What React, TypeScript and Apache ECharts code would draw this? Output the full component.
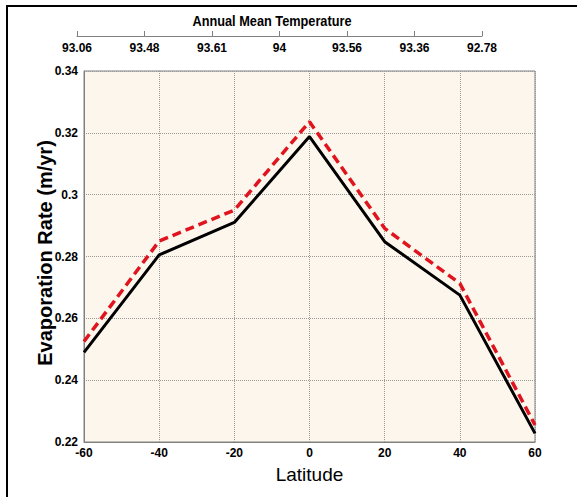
import React, { useEffect, useRef } from "react";
import * as echarts from "echarts";

const latitudes = [-60, -40, -20, 0, 20, 40, 60];
const blackSeries = [0.2490, 0.2805, 0.2910, 0.3188, 0.2848, 0.2675, 0.2228];
const redSeries = [0.2525, 0.2850, 0.2950, 0.3236, 0.2891, 0.2713, 0.2255];
const tempLabels = ["93.06", "93.48", "93.61", "94", "93.56", "93.36", "92.78"];

const NARROW = "'Liberation Sans Narrow', 'Arial Narrow', 'Liberation Sans', Arial, sans-serif";
const SANS = "'Liberation Sans', Arial, sans-serif";

export default function App() {
  const ref = useRef<HTMLDivElement>(null);
  useEffect(() => {
    document.body.style.margin = "0";
    const chart = echarts.init(ref.current!, null, { renderer: "svg" });
    const pair = (arr: number[]) => latitudes.map((x, i) => [x, arr[i]]);
    chart.setOption({
      animation: false,
      backgroundColor: "#ffffff",
      graphic: [
        {
          type: "rect",
          shape: { x: 7, y: 6, width: 700, height: 700 },
          style: { fill: "none", stroke: "#000", lineWidth: 2 },
          z: 100,
        },
        {
          type: "text",
          x: 272,
          y: 21,
          scaleX: 0.85,
          style: {
            text: "Annual Mean Temperature",
            font: `bold 15px ${NARROW}`,
            fill: "#000",
            align: "center",
            verticalAlign: "middle",
          },
        },
        {
          type: "text",
          x: 45,
          y: 253,
          rotation: Math.PI / 2,
          style: {
            text: "Evaporation Rate (m/yr)",
            font: `bold 20px ${SANS}`,
            fill: "#000",
            align: "center",
            verticalAlign: "middle",
          },
        },
      ],
      grid: [
        {
          left: 84,
          right: 42,
          top: 71,
          bottom: 55,
          show: true,
          backgroundColor: "#FDF6EC",
          borderColor: "#808080",
          borderWidth: 1,
        },
        { left: 77, width: 405, top: 36, height: 0, show: false },
      ],
      xAxis: [
        {
          type: "value",
          gridIndex: 0,
          min: -60,
          max: 60,
          interval: 20,
          name: "Latitude",
          nameLocation: "middle",
          nameGap: 23,
          nameTextStyle: { fontFamily: SANS, fontSize: 19, color: "#000" },
          axisLine: { onZero: false, lineStyle: { color: "#808080", width: 1 } },
          axisTick: { show: false },
          axisLabel: {
            color: "#000",
            fontFamily: NARROW,
            fontWeight: "bold",
            fontSize: 12,
            margin: 5,
          },
          splitLine: { show: true, lineStyle: { color: "#999", type: "dotted", width: 1 } },
        },
        {
          type: "category",
          gridIndex: 1,
          data: tempLabels,
          boundaryGap: false,
          position: "bottom",
          axisLine: { onZero: false, lineStyle: { color: "#808080", width: 1 } },
          axisTick: { show: true, inside: true, length: 5, lineStyle: { color: "#808080" } },
          axisLabel: {
            color: "#000",
            fontFamily: NARROW,
            fontWeight: "bold",
            fontSize: 12,
            margin: 6,
            interval: 0,
          },
          splitLine: { show: false },
        },
      ],
      yAxis: [
        {
          type: "value",
          gridIndex: 0,
          min: 0.22,
          max: 0.34,
          interval: 0.02,
          axisLine: { show: true, onZero: false, lineStyle: { color: "#808080", width: 1 } },
          axisTick: { show: false },
          axisLabel: {
            color: "#000",
            fontFamily: NARROW,
            fontWeight: "bold",
            fontSize: 12,
            margin: 6,
            formatter: (v: number) => String(+v.toFixed(2)),
          },
          splitLine: { show: true, lineStyle: { color: "#999", type: "dotted", width: 1 } },
        },
        {
          type: "value",
          gridIndex: 1,
          show: false,
        },
      ],
      series: [
        {
          type: "line",
          xAxisIndex: 0,
          yAxisIndex: 0,
          data: pair(blackSeries),
          showSymbol: false,
          symbol: "none",
          lineStyle: { color: "#000", width: 3 },
          z: 3,
        },
        {
          type: "line",
          xAxisIndex: 0,
          yAxisIndex: 0,
          data: pair(redSeries),
          showSymbol: false,
          symbol: "none",
          lineStyle: { color: "#E0141E", width: 3.5, type: [9, 5] },
          z: 4,
        },
      ],
    });
    return () => chart.dispose();
  }, []);
  return <div ref={ref} style={{ width: 577, height: 497 }} />;
}
